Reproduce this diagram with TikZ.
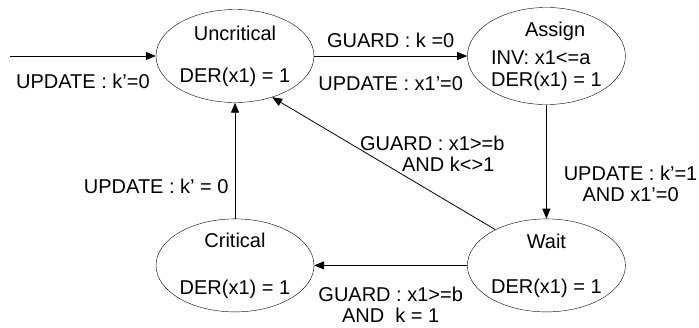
\documentclass[tikz,border=0pt]{standalone}
\usepackage{fontspec}
\setmainfont{Liberation Sans}
\usetikzlibrary{arrows.meta,positioning,shapes.geometric}

\begin{document}
\begin{tikzpicture}[x=1pt, y=-1pt,
    state/.style={draw, ellipse, minimum width=158pt, minimum height=93pt, inner sep=0pt, align=center, font=\fontsize{20}{22}\selectfont},
    arr/.style={-{Triangle[length=10pt,width=8pt]}, line width=0.8pt},
    lbl/.style={font=\fontsize{20}{21}\selectfont, inner sep=0pt, align=center},
    node distance=116pt and 153pt
  ]
    \useasboundingbox (0,0) rectangle (699,327);

    % Top row
    \node[state] (unc) at (235,56) {Uncritical\\[20pt]DER(x1) = 1};
    \node[state, right=of unc, align=left] (asg) {\hspace*{34pt}Assign\\[6pt]INV: x1<=a\\DER(x1) = 1};

    % Bottom row
    \node[state, below=of unc] (crit) {Critical\\[25pt]DER(x1) = 1};
    \node[state, right=of crit] (wait) {Wait\\[23pt]DER(x1) = 1};

    \coordinate (init) at (10,56);

    % Transitions
    \draw[arr] (init) -- node[lbl, below=18pt] {UPDATE : k’=0} (unc);
    \draw[arr] (unc) -- node[lbl, above=7.7pt] {GUARD : k =0}
                        node[lbl, below=19.7pt] {UPDATE : x1’=0} (asg);
    \draw[arr] (asg) -- node[lbl, pos=0.69, right=17pt] {UPDATE : k’=1\\AND x1’=0} (wait);
    \draw[arr] (wait.145) -- node[lbl, xshift=48.5pt, yshift=9.5pt] {GUARD : x1>=b\\\hspace*{32pt}AND k<>1} (unc.312);
    \draw[arr] (wait) -- node[lbl, below=21pt] {GUARD : x1>=b\\AND\ \ k = 1} (crit);
    \draw[arr] (crit) -- node[lbl, pos=0.28, left=6pt] {UPDATE : k’ = 0} (unc);

\end{tikzpicture}
\end{document}
